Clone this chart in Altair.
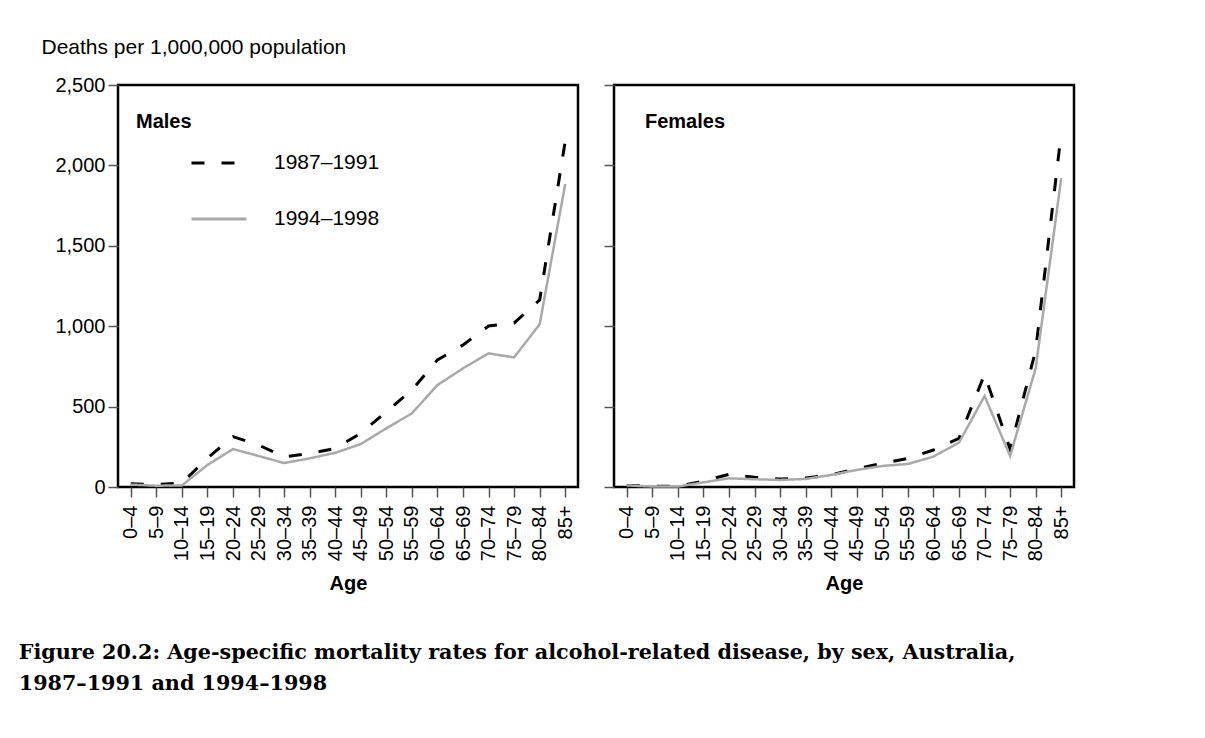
import altair as alt
import pandas as pd

ages = ["0\u20134", "5\u20139", "10\u201314", "15\u201319", "20\u201324", "25\u201329",
        "30\u201334", "35\u201339", "40\u201344", "45\u201349", "50\u201354", "55\u201359",
        "60\u201364", "65\u201369", "70\u201374", "75\u201379", "80\u201384", "85+"]
periods = ["1987\u20131991", "1994\u20131998"]

males_8791 = [20, 15, 25, 180, 313, 261, 188, 209, 240, 334, 468, 603, 790, 883, 1001, 1020, 1163, 2150]
males_9498 = [15, 8, 10, 137, 236, 193, 149, 178, 213, 267, 365, 458, 634, 738, 831, 806, 1012, 1884]
females_8791 = [10, 5, 5, 37, 79, 60, 50, 56, 75, 114, 147, 178, 230, 303, 700, 235, 850, 2200]
females_9498 = [10, 3, 3, 29, 54, 48, 44, 50, 75, 106, 131, 143, 189, 276, 566, 193, 738, 1920]

y_ticks = [0, 500, 1000, 1500, 2000, 2500]

rows = []
for sex, series in [("Males", [males_8791, males_9498]), ("Females", [females_8791, females_9498])]:
    for period, vals in zip(periods, series):
        for a, v in zip(ages, vals):
            rows.append({"sex": sex, "period": period, "age": a, "value": v})
df = pd.DataFrame(rows)

FONT = "Liberation Sans"
W, H = 460, 402

color_scale = alt.Scale(domain=periods, range=["#000000", "#a9a9a9"])
dash_scale = alt.Scale(domain=periods, range=[[13, 17], [1, 0]])
width_scale = alt.Scale(domain=periods, range=[3, 2.5])


def panel(sex, label, label_x, left):
    legend = None
    if left:
        legend = alt.Legend(
            title=None, orient="none", legendX=72, legendY=49,
            symbolType="stroke", symbolSize=3025, symbolStrokeWidth=3,
            labelFont=FONT, labelFontSize=21, labelColor="black",
            labelOffset=26, rowPadding=17,
        )
    if left:
        yaxis = alt.Axis(
            values=y_ticks, format=",d", title="Deaths per 1,000,000 population",
            titleAngle=0, titleAlign="left", titleBaseline="middle",
            titleX=-77, titleY=-38, titleFont=FONT, titleFontSize=21,
            titleFontWeight="normal", titleColor="black", labelPadding=3,
        )
    else:
        yaxis = alt.Axis(values=y_ticks, labels=False, title=None)
    lines = alt.Chart(df[df.sex == sex]).mark_line().encode(
        x=alt.X("age:N", sort=ages, scale=alt.Scale(padding=0.5),
                axis=alt.Axis(title="Age", labelAngle=-90, labelPadding=8,
                              titleFont=FONT, titleFontSize=20, titleFontWeight="bold",
                              titleColor="black", titlePadding=13)),
        y=alt.Y("value:Q", scale=alt.Scale(domain=[0, 2500], nice=False), axis=yaxis),
        color=alt.Color("period:N", scale=color_scale, legend=legend),
        strokeDash=alt.StrokeDash("period:N", scale=dash_scale, legend=legend),
        strokeWidth=alt.StrokeWidth("period:N", scale=width_scale, legend=None),
        detail="period:N",
    )
    txt = alt.Chart(pd.DataFrame({"label": [label]})).mark_text(
        font=FONT, fontSize=20, fontWeight="bold", align="left", baseline="middle", color="black"
    ).encode(x=alt.value(label_x), y=alt.value(37), text="label:N")
    return alt.layer(lines, txt).properties(width=W, height=H)


left = panel("Males", "Males", 18, True)
right = panel("Females", "Females", 31, False)

chart = alt.hconcat(left, right, spacing=22).resolve_legend(
    color="independent", strokeDash="independent"
).properties(
    title=alt.TitleParams(
        text=["Figure 20.2: Age-specific mortality rates for alcohol-related disease, by sex, Australia,",
              "1987\u20131991 and 1994\u20131998"],
        orient="bottom", anchor="start", font="DejaVu Serif", fontSize=20.7,
        fontWeight="bold", color="black", lineHeight=31, offset=48, dx=-21,
    ),
    padding={"left": 10, "top": 26, "right": 5, "bottom": 5},
).configure_axis(
    labelFont=FONT, labelFontSize=20, labelColor="black",
    tickColor="#555555", tickWidth=1.5, tickSize=10, domain=False, grid=False,
).configure_view(
    stroke="black", strokeWidth=2.5,
)

chart.save("out.html", embed_options={"renderer": "svg", "actions": False})
